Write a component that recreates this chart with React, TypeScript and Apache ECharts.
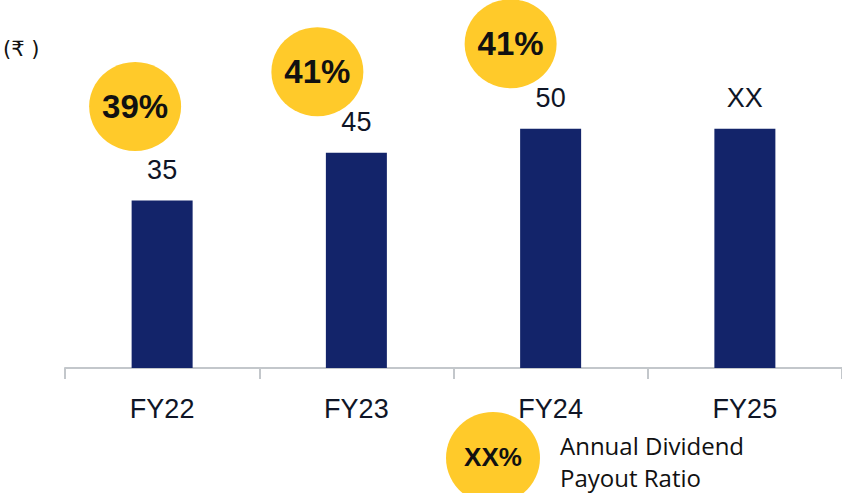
import React, { useEffect, useRef } from "react";
import * as echarts from "echarts";

const categories = ["FY22", "FY23", "FY24", "FY25"];
const dividends = [35, 45, 50, 50];
const valueLabels = ["35", "45", "50", "XX"];
const payoutRatios: (string | null)[] = ["39%", "41%", "41%", null];
const legendBadge = "XX%";
const legendLines = ["Annual Dividend", "Payout Ratio"];
const unitLabel = "(₹ )";

// layout offsets of the payout badges relative to each bar top (px)
const badgeOffsets: [number, number][] = [
  [-27, -94],
  [-39, -81],
  [-40, -85],
  [0, 0],
];

const NAVY = "#13246A";
const YELLOW = "#FFCA2A";
const FONT = "'Liberation Sans', Arial, sans-serif";

export default function App() {
  const ref = useRef<HTMLDivElement>(null);
  useEffect(() => {
    if (!ref.current) return;
    const chart = echarts.init(ref.current, undefined, { renderer: "svg" });
    const scatterData = payoutRatios
      .map((p, i) =>
        p == null
          ? null
          : {
              value: [categories[i], dividends[i]],
              symbolOffset: badgeOffsets[i],
              label: { formatter: p },
            }
      )
      .filter((d) => d != null);
    chart.setOption({
      animation: false,
      backgroundColor: "#ffffff",
      grid: { left: 65, right: 0, top: 81, bottom: 125, containLabel: false },
      xAxis: {
        type: "category",
        data: categories,
        axisLine: { show: true, lineStyle: { color: "#C3C7CB", width: 2 } },
        axisTick: { show: true, length: 11, lineStyle: { color: "#C3C7CB", width: 2 } },
        axisLabel: {
          color: "#0F1526",
          fontSize: 27,
          fontFamily: FONT,
          margin: 27,
        },
      },
      yAxis: {
        type: "value",
        min: 0,
        max: 60,
        show: false,
        splitLine: { show: false },
      },
      series: [
        {
          type: "bar",
          data: dividends.map((v, i) => ({
            value: v,
            label: { formatter: valueLabels[i] },
          })),
          barWidth: 61,
          itemStyle: { color: NAVY },
          label: {
            show: true,
            position: "top",
            distance: 17,
            color: "#0F1526",
            fontSize: 27,
            fontFamily: FONT,
          },
          z: 2,
        },
        {
          type: "scatter",
          data: scatterData,
          symbol: "circle",
          symbolSize: [92, 89],
          itemStyle: { color: YELLOW, opacity: 1 },
          label: {
            show: true,
            position: "inside",
            color: "#111111",
            fontSize: 33,
            fontWeight: "bold",
            fontFamily: FONT,
          },
          z: 3,
        },
      ],
      graphic: [
        {
          type: "text",
          left: 3,
          top: 38,
          style: {
            text: unitLabel,
            fontSize: 21,
            fontFamily: "'DejaVu Sans', 'Noto Sans', sans-serif",
            fill: "#111111",
          },
        },
        {
          type: "ellipse",
          shape: { cx: 493, cy: 458, rx: 47, ry: 46 },
          style: { fill: YELLOW },
        },
        {
          type: "text",
          x: 493,
          y: 457,
          style: {
            text: legendBadge,
            fontSize: 26,
            fontWeight: "bold",
            fontFamily: FONT,
            fill: "#111111",
            align: "center",
            verticalAlign: "middle",
          },
        },
        {
          type: "text",
          x: 560,
          y: 445,
          style: {
            text: legendLines[0],
            fontSize: 24,
            fontFamily: "'Open Sans', sans-serif",
            fill: "#111111",
            verticalAlign: "middle",
          },
        },
        {
          type: "text",
          x: 560,
          y: 477,
          style: {
            text: legendLines[1],
            fontSize: 24,
            fontFamily: "'Open Sans', sans-serif",
            fill: "#111111",
            verticalAlign: "middle",
          },
        },
      ],
    });
    return () => chart.dispose();
  }, []);
  return (
    <div
      ref={ref}
      style={{ position: "absolute", left: 0, top: 0, width: 842, height: 493 }}
    />
  );
}
